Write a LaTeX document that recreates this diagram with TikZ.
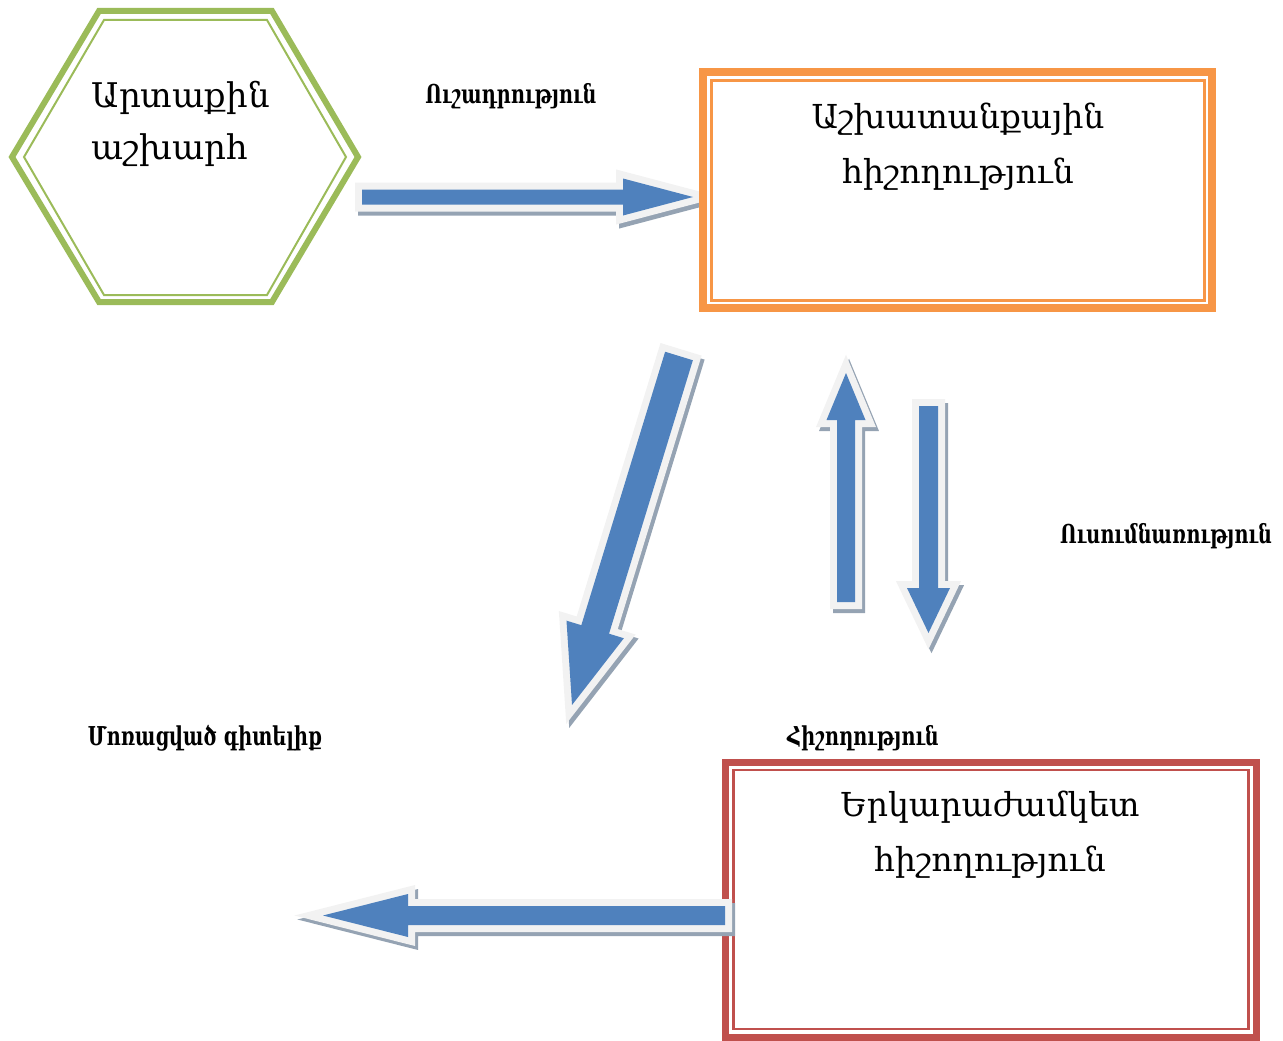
\documentclass[tikz,border=0pt]{standalone}
\usepackage{fontspec}
\setmainfont{DejaVu Serif}
\newfontfamily\labelfont[FakeStretch=0.74]{DejaVu Serif}
\usepackage{tikz}
\usetikzlibrary{calc}

\definecolor{hexgreen}{HTML}{9BBB59}
\definecolor{wmorange}{HTML}{F79646}
\definecolor{ltmred}{HTML}{C0504D}
\definecolor{arrblue}{HTML}{4F81BD}
\definecolor{arrrim}{HTML}{F2F2F2}
\definecolor{arrshade}{HTML}{95A3B3}

% block arrow: from, to, shaft half width, head half width, head length
\newcommand{\blockarrow}[5]{%
  \path let \p1=($(#2)-(#1)$) in \pgfextra{%
    \pgfmathparse{atan2(\y1,\x1)}\global\let\arrang\pgfmathresult
    \pgfmathparse{veclen(\x1,\y1)}\global\let\arrlen\pgfmathresult};
  \pgfmathsetmacro\arrneck{\arrlen-#5}
  \def\arrpath{(0,-#3) -- (\arrneck,-#3) -- (\arrneck,-#4) -- (\arrlen,0)
      -- (\arrneck,#4) -- (\arrneck,#3) -- (0,#3) -- cycle}
  \draw[shift={(#1)}, arrshadow, rotate=\arrang] \arrpath;
  \draw[shift={(#1)}, arrrimline, rotate=\arrang] \arrpath;
  \fill[arrblue, shift={(#1)}, rotate=\arrang] \arrpath;
}

\tikzset{
  boxtext/.style={font=\fontsize{33}{55}\selectfont, align=center},
  steplabel/.style={font=\labelfont\fontsize{26}{28}\selectfont\bfseries},
  arrshadow/.style={xshift=3pt, yshift=-4pt, fill=arrshade, draw=arrshade,
    line width=14pt, line join=miter, miter limit=10},
  arrrimline/.style={fill=arrrim, draw=arrrim, line width=14pt,
    line join=miter, miter limit=10},
}

\begin{document}
\begin{tikzpicture}[x=1pt,y=-1pt]
  \useasboundingbox (0,0) rectangle (1283,1041);

  % outside world
  \draw[hexgreen, line width=6pt, line join=miter]
    (12,157) -- (99,11) -- (272,11) -- (358,157) -- (272,302) -- (99,302) -- cycle;
  \draw[hexgreen, line width=2pt, line join=miter]
    (24,157) -- (104,20) -- (267,20) -- (346,157) -- (267,295) -- (104,295) -- cycle;
  \node[boxtext, align=left, font=\fontsize{34}{52}\selectfont, anchor=north west] (ext) at (88,78) {Արտաքին\\աշխարհ};

  % long term memory
  \draw[ltmred, line width=7pt] (725.5,762) rectangle (1256,1037);
  \draw[ltmred, line width=2.5pt] (733.5,770) rectangle (1248.5,1029);
  \node[boxtext] (ltm) at (990,835) {Երկարաժամկետ\\հիշողություն};

  % labels
  \node[steplabel] (att) at (511,96) {Ուշադրություն};
  \node[steplabel] (learn) at (1166,536) {Ուսումնառություն};
  \node[steplabel] (forgot) at (205,738) {Մոռացված գիտելիք};
  \node[steplabel] (recall) at (863,738) {Հիշողություն};

  % arrows
  \coordinate (a1s) at (362,197);   \coordinate (a1e) at (693,197);
  \coordinate (a2s) at (679,356);   \coordinate (a2e) at (572,705);
  \coordinate (a3s) at (846,602);   \coordinate (a3e) at (846,373);
  \coordinate (a4s) at (928.5,406); \coordinate (a4e) at (928.5,633);
  \coordinate (a5s) at (725,915.5); \coordinate (a5e) at (323,915.5);

  \blockarrow{a1s}{a1e}{7.5}{18.5}{70}
  \blockarrow{a2s}{a2e}{14.5}{30}{79}
  \blockarrow{a3s}{a3e}{9}{19.5}{47}
  \blockarrow{a4s}{a4e}{9.5}{21.5}{45}
  \blockarrow{a5s}{a5e}{9.5}{21.5}{85}

  % working memory
  \fill[white] (707,76) rectangle (740,308);
  \draw[wmorange, line width=8pt] (703,72) rectangle (1212,308);
  \draw[wmorange, line width=3pt] (711.5,80.5) rectangle (1204,300);
  \node[boxtext] (wm) at (958,147) {Աշխատանքային\\հիշողություն};
\end{tikzpicture}
\end{document}
